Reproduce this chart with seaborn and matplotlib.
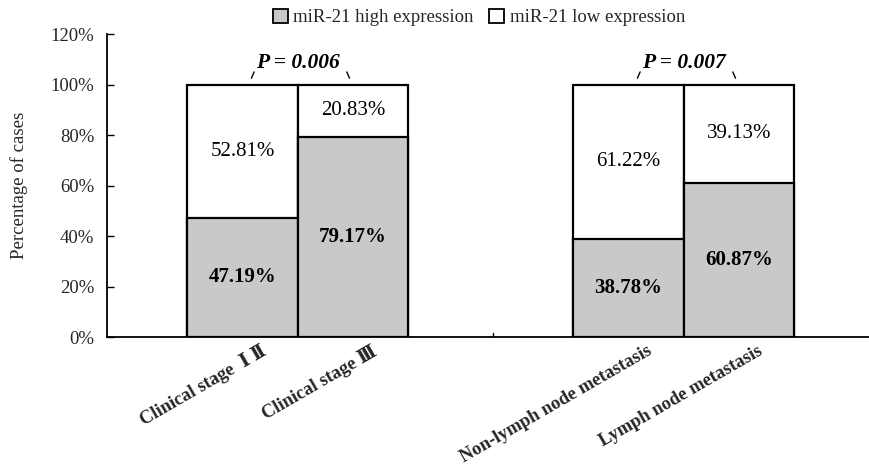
import matplotlib
matplotlib.use("Agg")
import matplotlib.pyplot as plt
import matplotlib.transforms as mtransforms
from matplotlib.patches import Patch
import seaborn as sns
import pandas as pd

sns.set_theme(style="white")
plt.rcParams["font.family"] = ["Liberation Serif", "DejaVu Serif"]

# Data
categories = ["Clinical stage  Ⅰ Ⅱ", "Clinical stage Ⅲ",
              "Non-lymph node metastasis", "Lymph node metastasis"]
positions = [0.0, 1.0, 3.5, 4.5]
high_expr = [47.19, 79.17, 38.78, 60.87]
low_expr = [52.81, 20.83, 61.22, 39.13]
p_values = ["P = 0.006", "P = 0.007"]
y_ticks = [0, 20, 40, 60, 80, 100, 120]

df = pd.DataFrame({
    "pos": positions,
    "category": categories,
    "high": high_expr,
    "low": low_expr,
})
df["total"] = df["high"] + df["low"]

gray = "#c9c9c9"

fig = plt.figure(figsize=(8.69, 4.69), dpi=100)
ax = fig.add_axes([0.123, 0.2814, 0.877, 0.646])

# Full bars (low expression shows above the high segment)
sns.barplot(data=df, x="pos", y="total", native_scale=True, width=1.0,
            color="white", edgecolor="black", linewidth=1.6, saturation=1,
            ax=ax)
sns.barplot(data=df, x="pos", y="high", native_scale=True, width=1.0,
            color=gray, edgecolor="black", linewidth=1.6, saturation=1,
            ax=ax)

ax.set_xlim(-1.23, 5.68)
ax.set_ylim(0, 120)
ax.set_yticks(y_ticks)
ax.set_yticklabels([f"{t}%" for t in y_ticks], fontsize=13.5)
ax.tick_params(axis="y", direction="in", length=5, width=1, color="black",
               left=True, pad=9)

# Category labels
ax.set_xticks(positions)
ax.set_xticklabels(categories, rotation=30, ha="right",
                   rotation_mode="anchor", fontsize=13.3, fontweight="bold")
ax.tick_params(axis="x", length=0, pad=4)
offset = mtransforms.ScaledTranslation(0.18, 0, fig.dpi_scale_trans)
for lab in ax.get_xticklabels():
    lab.set_transform(lab.get_transform() + offset)

# small separator tick on the category axis
ax.plot([2.27, 2.27], [0, 1.5], color="black", lw=1)

ax.set_xlabel("")
ax.set_ylabel("Percentage of cases", fontsize=13.5, labelpad=16)

for side in ["top", "right"]:
    ax.spines[side].set_visible(False)
for side in ["left", "bottom"]:
    ax.spines[side].set_color("black")
    ax.spines[side].set_linewidth(1.3)

# Value labels
for x, h, l in zip(positions, high_expr, low_expr):
    ax.text(x, h / 2, f"{h:.2f}%", ha="center", va="center",
            fontsize=15, fontweight="bold", color="black")
    ax.text(x, h + l / 2, f"{l:.2f}%", ha="center", va="center",
            fontsize=15, color="black")

# P values over each pair
pairs = [(positions[0], positions[1]), (positions[2], positions[3])]
for (a, b), p in zip(pairs, p_values):
    mid = (a + b) / 2
    ax.text(mid, 108.5, p, ha="center", va="center", fontsize=15.5,
            fontweight="bold", fontstyle="italic", color="black")
    ax.plot([mid - 0.42, mid - 0.395], [102.5, 105], color="black", lw=1)
    ax.plot([mid + 0.445, mid + 0.47], [105, 102.5], color="black", lw=1)

handles = [Patch(facecolor=gray, edgecolor="black", linewidth=1.3,
                 label="miR-21 high expression"),
           Patch(facecolor="white", edgecolor="black", linewidth=1.3,
                 label="miR-21 low expression")]
fig.legend(handles=handles, loc="center", bbox_to_anchor=(0.551, 0.963),
           ncol=2, frameon=False, fontsize=13.5, handlelength=0.8,
           handleheight=0.8, handletextpad=0.3, columnspacing=0.8)

fig.savefig("out.png", dpi=100, facecolor="white")
